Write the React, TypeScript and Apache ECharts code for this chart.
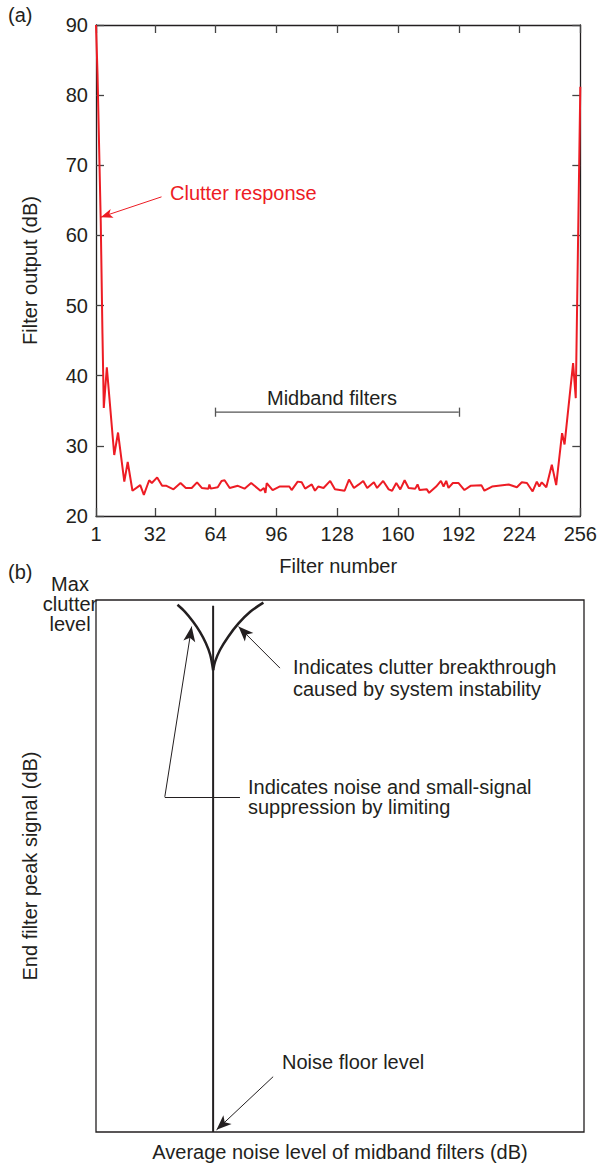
import { useEffect, useRef } from "react";
import * as echarts from "echarts";

// ---------- (a) Filter output vs filter number ----------
const filterNumber = [
  1, 1.8, 3.5, 4.4, 5.1, 6.7, 10.6, 12.6, 15.9, 17.7,
  20.2, 24.3, 26.2, 29, 30.4, 33.2, 35.8, 38.1, 41.8, 45.5,
  48.3, 51.4, 54.2, 56.7, 60.2, 60.7, 61.4, 65.1, 67.1, 68.7,
  71.4, 75.7, 79.2, 82.7, 87.6, 89.4, 90.2, 90.9, 94, 97.6,
  102.8, 104, 107.2, 109.3, 111.1, 114.6, 116.3, 118, 120.8, 124.3,
  126.8, 131.9, 134.2, 136.8, 139.4, 141.7, 143.8, 147.3, 149, 152.2,
  155.1, 156.9, 159.1, 161.2, 163.5, 165.6, 169.1, 170.3, 171.4, 175.2,
  176.4, 180.1, 182.6, 184, 185.4, 186.6, 188.9, 191.9, 195, 198.2,
  203.9, 205.5, 209.5, 218.3, 222.6, 225.2, 227.9, 230.9, 233.1, 234.4,
  235.7, 238.1, 241, 243.3, 246.4, 247.7, 252.2, 253.6, 256,
];
const outputDb = [
  90, 83, 62, 46, 35.4, 41.2, 28.7, 31.9, 24.9, 27.7,
  23.6, 24.4, 23.0, 25.1, 24.7, 25.5, 24.3, 24.3, 23.8, 24.7,
  24.0, 24.0, 24.8, 24.0, 23.9, 24.5, 23.9, 24.1, 25.0, 25.1,
  24.0, 24.3, 23.9, 24.7, 23.6, 24.0, 23.3, 24.7, 23.7, 24.2,
  24.2, 23.7, 24.9, 24.8, 23.9, 24.5, 23.6, 24.2, 24.0, 25.0,
  23.8, 23.6, 25.2, 24.0, 24.5, 25.0, 24.0, 24.8, 24.0, 25.0,
  23.8, 23.6, 24.7, 23.8, 25.1, 24.0, 23.9, 24.5, 23.7, 23.8,
  23.3, 24.2, 25.0, 24.2, 25.0, 24.0, 24.7, 24.7, 23.7, 24.3,
  24.4, 23.6, 24.2, 24.5, 24.1, 24.8, 24.7, 23.5, 24.9, 24.2,
  24.8, 24.1, 27.3, 24.4, 31.8, 30.2, 41.8, 36.8, 81.2,
];
const xTickValues = [1, 32, 64, 96, 128, 160, 192, 224, 256];
const yMin = 20;
const yMax = 90;
const yStep = 10;

const midbandRange = [64, 192];
const midbandLevel = 34.8;
const clutterArrowFrom = [35.5, 65.5];
const clutterArrowTo = [3.5, 62.6];

// ---------- (b) schematic, relative units 0–100 ----------
const leftCurveNoise = [16.7, 18.2, 19.9, 21.3, 22.5, 23.4, 24];
const leftCurvePeak = [99.1, 97.8, 95.9, 94.0, 91.9, 89.7, 86.8];
const rightCurveNoise = [34.3, 31.6, 29.2, 27.1, 25.4, 24.4, 24];
const rightCurvePeak = [99.5, 97.8, 95.6, 93.1, 90.6, 88.4, 86.8];
const floorNoise = [24, 24];
const floorPeak = [98.9, 0];

const limitArrowFrom = [14.1, 63.0];
const limitArrowTo = [19.6, 95.0];
const limitLeaderEnd = [29.5, 63.0];
const breakArrowFrom = [37.7, 87.2];
const breakArrowTo = [29.2, 95.0];
const floorArrowFrom = [36.3, 10.4];
const floorArrowTo = [24.7, 0.4];

const FONT = "'Liberation Sans', Arial, Helvetica, sans-serif";
const TXT = "#231f20";
const RED = "#ed1c24";
const FS = 20;

const pairs = (xs: number[], ys: number[]) => xs.map((x, i) => [x, ys[i]]);

function buildOption(): any {
  const axisLine = { show: true, onZero: false, lineStyle: { color: TXT, width: 1.3 } };
  const tick = { show: true, inside: true, length: 8, lineStyle: { color: "#444", width: 1.3 } };
  const nameStyle = { fontSize: FS, fontFamily: FONT, color: TXT };
  const hiddenAxis = {
    axisLine: { show: false },
    axisTick: { show: false },
    axisLabel: { show: false },
    splitLine: { show: false },
  };
  const txt = (text: string, x: number, y: number, align = "left", fill = TXT, lineHeight = 22) => ({
    type: "text",
    x,
    y,
    silent: true,
    style: { text, fontSize: FS, fontFamily: FONT, fill, align, verticalAlign: "middle", lineHeight },
  });
  const arrowMark = {
    silent: true,
    symbolSize: [9, 15],
    label: { show: false },
    lineStyle: { type: "solid", color: TXT, width: 1 },
    emphasis: { disabled: true },
    data: [
      [{ coord: limitArrowFrom, symbol: "none" }, { coord: limitArrowTo, symbol: "arrow" }],
      [{ coord: limitArrowFrom, symbol: "none" }, { coord: limitLeaderEnd, symbol: "none" }],
      [{ coord: breakArrowFrom, symbol: "none" }, { coord: breakArrowTo, symbol: "arrow" }],
      [{ coord: floorArrowFrom, symbol: "none" }, { coord: floorArrowTo, symbol: "arrow" }],
    ],
  };
  return {
    animation: false,
    backgroundColor: "#fff",
    grid: [
      { left: 96, top: 25, width: 486, height: 491 },
      {
        left: 96, top: 600, width: 488, height: 532,
        show: true, borderColor: TXT, borderWidth: 1.3, backgroundColor: "transparent",
      },
    ],
    xAxis: [
      {
        gridIndex: 0, type: "value", min: 1, max: 256, position: "bottom",
        axisLine, axisTick: { ...tick, customValues: xTickValues },
        axisLabel: { customValues: xTickValues, fontSize: FS, fontFamily: FONT, color: TXT, margin: 8 },
        splitLine: { show: false },
        name: "Filter number", nameLocation: "middle", nameGap: 40, nameTextStyle: nameStyle,
      },
      {
        gridIndex: 0, type: "value", min: 1, max: 256, position: "top",
        axisLine, axisTick: { ...tick, customValues: xTickValues },
        axisLabel: { show: false }, splitLine: { show: false },
      },
      {
        gridIndex: 1, type: "value", min: 0, max: 100, ...hiddenAxis,
        name: "Average noise level of midband filters (dB)", nameLocation: "middle", nameGap: 10,
        nameTextStyle: nameStyle,
      },
    ],
    yAxis: [
      {
        gridIndex: 0, type: "value", min: yMin, max: yMax, interval: yStep, position: "left",
        axisLine, axisTick: tick,
        axisLabel: { fontSize: FS, fontFamily: FONT, color: TXT, margin: 8 },
        splitLine: { show: false },
        name: "Filter output (dB)", nameLocation: "middle", nameGap: 56, nameTextStyle: nameStyle,
      },
      {
        gridIndex: 0, type: "value", min: yMin, max: yMax, interval: yStep, position: "right",
        axisLine, axisTick: tick, axisLabel: { show: false }, splitLine: { show: false },
      },
      {
        gridIndex: 1, type: "value", min: 0, max: 100, ...hiddenAxis,
        name: "End filter peak signal (dB)", nameLocation: "middle", nameGap: 56,
        nameTextStyle: nameStyle,
      },
    ],
    series: [
      {
        type: "line", xAxisIndex: 0, yAxisIndex: 0, symbol: "none", silent: true,
        data: pairs(filterNumber, outputDb),
        lineStyle: { color: RED, width: 2 },
        markLine: {
          silent: true, symbolSize: [7, 12], label: { show: false },
          lineStyle: { type: "solid", color: RED, width: 1 },
          data: [[{ coord: clutterArrowFrom, symbol: "none" }, { coord: clutterArrowTo, symbol: "arrow" }]],
        },
      },
      {
        type: "line", xAxisIndex: 0, yAxisIndex: 0, symbol: "none", silent: true,
        data: [[midbandRange[0], midbandLevel], [midbandRange[1], midbandLevel]],
        lineStyle: { color: "#555", width: 1.3 },
        markLine: {
          silent: true, symbol: "none", label: { show: false },
          lineStyle: { type: "solid", color: "#555", width: 1.3 },
          data: [
            [{ coord: [midbandRange[0], midbandLevel - 0.65] }, { coord: [midbandRange[0], midbandLevel + 0.65] }],
            [{ coord: [midbandRange[1], midbandLevel - 0.65] }, { coord: [midbandRange[1], midbandLevel + 0.65] }],
          ],
        },
      },
      {
        type: "line", xAxisIndex: 2, yAxisIndex: 2, symbol: "none", silent: true, smooth: 0.3,
        data: pairs(leftCurveNoise, leftCurvePeak),
        lineStyle: { color: TXT, width: 2.5 },
      },
      {
        type: "line", xAxisIndex: 2, yAxisIndex: 2, symbol: "none", silent: true, smooth: 0.3,
        data: pairs(rightCurveNoise, rightCurvePeak),
        lineStyle: { color: TXT, width: 2.5 },
      },
      {
        type: "line", xAxisIndex: 2, yAxisIndex: 2, symbol: "none", silent: true,
        data: pairs(floorNoise, floorPeak),
        lineStyle: { color: TXT, width: 2 },
        markLine: arrowMark,
      },
    ],
    graphic: [
      txt("(a)", 8, 15),
      txt("(b)", 8, 572),
      txt("Clutter response", 170, 193, "left", RED),
      txt("Midband filters", 332, 398, "center"),
      txt("Max\nclutter\nlevel", 70, 604, "center", TXT, 20),
      txt("Indicates clutter breakthrough\ncaused by system instability", 293, 678),
      txt("Indicates noise and small-signal\nsuppression by limiting", 248, 797, "left", TXT, 20),
      txt("Noise floor level", 282, 1062),
    ],
  };
}

export default function App() {
  const ref = useRef<HTMLDivElement>(null);
  useEffect(() => {
    if (!ref.current) return;
    const chart = echarts.init(ref.current, null, { renderer: "svg" });
    chart.setOption(buildOption());
    return () => chart.dispose();
  }, []);
  return (
    <div
      ref={ref}
      style={{ position: "absolute", left: 0, top: 0, width: 600, height: 1165, background: "#fff" }}
    />
  );
}
